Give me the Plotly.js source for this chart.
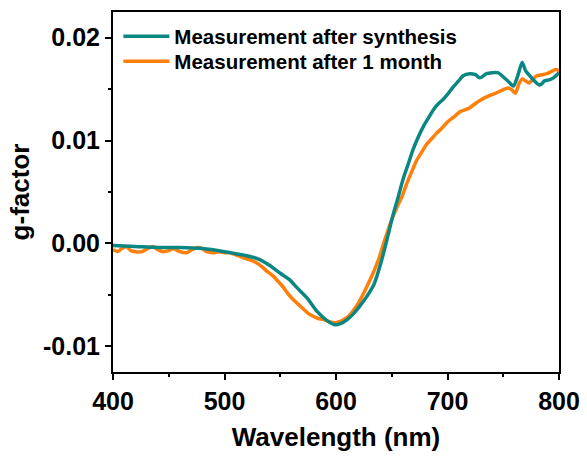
<!DOCTYPE html>
<html>
<head>
<meta charset="utf-8">
<script src="https://cdn.plot.ly/plotly-3.0.1.min.js"></script>
<style>html,body{margin:0;padding:0;background:#fff;}#chart{width:587px;height:456px;}</style>
</head>
<body>
<div id="chart"></div>
<script>
// Measurement after synthesis (teal)
const waveSynth = [400,420,440,460,480,500,510,520,530,540,550,558,565,574,583,592,599,604,610,616,622,628,634,640,646,651,656,660,665,669,674,679,684,688,692,696,700,705,710,714,720,725,729,735,740,745,751,755,759,763,767,770,773,777,783,787,791,795,800];
const gSynth = [-0.0002,-0.0003,-0.0004,-0.0004,-0.0005,-0.0008,-0.0010,-0.0012,-0.0015,-0.0021,-0.0029,-0.0035,-0.0043,-0.0053,-0.0066,-0.0075,-0.0079,-0.0078,-0.0074,-0.0068,-0.0060,-0.0051,-0.0040,-0.0020,0.0005,0.0027,0.0046,0.0062,0.0078,0.0091,0.0104,0.0115,0.0124,0.0131,0.0136,0.0140,0.0145,0.0152,0.0158,0.0163,0.0165,0.0164,0.0161,0.0165,0.0166,0.0166,0.0161,0.0157,0.0153,0.0163,0.0176,0.0168,0.0164,0.0159,0.0154,0.0158,0.0159,0.0161,0.0166];

// Measurement after 1 month (orange)
const waveMonth = [400,404,408,412,416,420,426,431,436,440,445,450,454,460,466,471,476,480,484,490,495,500,505,510,517,523,529,534,538,544,549,553,557,562,566,571,575,580,584,589,594,599,603,607,611,615,620,625,629,634,639,643,647,651,655,659,663,668,672,677,681,686,690,694,699,702,707,711,716,720,725,729,734,738,743,747,751,755,758,761,764,767,770,773,777,780,785,789,793,797,800];
const gMonth = [-0.0006,-0.0008,-0.0005,-0.0003,-0.0007,-0.0008,-0.0008,-0.0005,-0.0003,-0.0006,-0.0008,-0.0007,-0.0005,-0.0008,-0.0009,-0.0006,-0.0004,-0.0005,-0.0008,-0.0009,-0.0008,-0.0009,-0.0009,-0.0011,-0.0014,-0.0016,-0.0019,-0.0023,-0.0027,-0.0032,-0.0038,-0.0043,-0.0049,-0.0055,-0.0059,-0.0064,-0.0068,-0.0071,-0.0073,-0.0074,-0.0076,-0.0077,-0.0076,-0.0074,-0.0071,-0.0066,-0.0058,-0.0048,-0.0039,-0.0027,-0.0013,0.0001,0.0014,0.0026,0.0036,0.0045,0.0057,0.0070,0.0080,0.0089,0.0096,0.0102,0.0107,0.0111,0.0117,0.0120,0.0124,0.0128,0.0130,0.0132,0.0136,0.0139,0.0142,0.0144,0.0146,0.0148,0.0150,0.0151,0.0149,0.0146,0.0155,0.0160,0.0158,0.0156,0.0160,0.0163,0.0164,0.0165,0.0167,0.0169,0.0168];

const xTickVals = [400,500,600,700,800];
const xTickText = ['400','500','600','700','800'];
const yTickVals = [-0.01,0.00,0.01,0.02];
const yTickText = ['-0.01','0.00','0.01','0.02'];

const seriesNames = ['Measurement after synthesis','Measurement after 1 month'];

const FONT = 'Liberation Sans, Arial, sans-serif';

const traces = [
  {x: waveMonth, y: gMonth, name: seriesNames[1], type: 'scatter', mode: 'lines',
   legend: 'legend2',
   line: {color: '#ff7f0a', width: 3.5, shape: 'spline', smoothing: 0.5}},
  {x: waveSynth, y: gSynth, name: seriesNames[0], type: 'scatter', mode: 'lines',
   legend: 'legend',
   line: {color: '#0a8782', width: 3.5, shape: 'spline', smoothing: 0.8}}
];

const axisCommon = {
  showline: true, linecolor: '#000', linewidth: 2, mirror: true,
  ticks: 'outside', ticklen: 6, tickwidth: 2, tickcolor: '#000',
  showgrid: false, zeroline: false,
  tickfont: {family: FONT, size: 25, color: '#000', weight: 'bold'}
};

const legendCommon = {
  xanchor: 'left', yanchor: 'top',
  font: {family: FONT, size: 20.5, color: '#000', weight: 'bold'},
  bgcolor: 'rgba(0,0,0,0)', itemwidth: 46
};

const layout = {
  width: 587, height: 456,
  margin: {l: 113, r: 28, t: 12, b: 84, pad: 0},
  paper_bgcolor: '#fff', plot_bgcolor: '#fff',
  showlegend: true,
  legend: Object.assign({}, legendCommon, {x: 0.012, y: 0.988}),
  legend2: Object.assign({}, legendCommon, {x: 0.012, y: 0.918}),
  xaxis: Object.assign({}, axisCommon, {
    range: [400, 800], tickvals: xTickVals, ticktext: xTickText,
    minor: {dtick: 50, ticks: 'outside', ticklen: 3, tickwidth: 2, tickcolor: '#000'},
    title: {text: 'Wavelength (nm)', font: {family: FONT, size: 26, color: '#000', weight: 'bold'}, standoff: 14}
  }),
  yaxis: Object.assign({}, axisCommon, {
    range: [-0.0125, 0.0225], tickvals: yTickVals, ticktext: yTickText,
    minor: {dtick: 0.005, ticks: 'outside', ticklen: 3, tickwidth: 2, tickcolor: '#000'},
    title: {text: 'g-factor', font: {family: FONT, size: 26, color: '#000', weight: 'bold'}, standoff: 6}
  })
};

Plotly.newPlot('chart', traces, layout, {displayModeBar: false, staticPlot: true});
</script>
</body>
</html>
